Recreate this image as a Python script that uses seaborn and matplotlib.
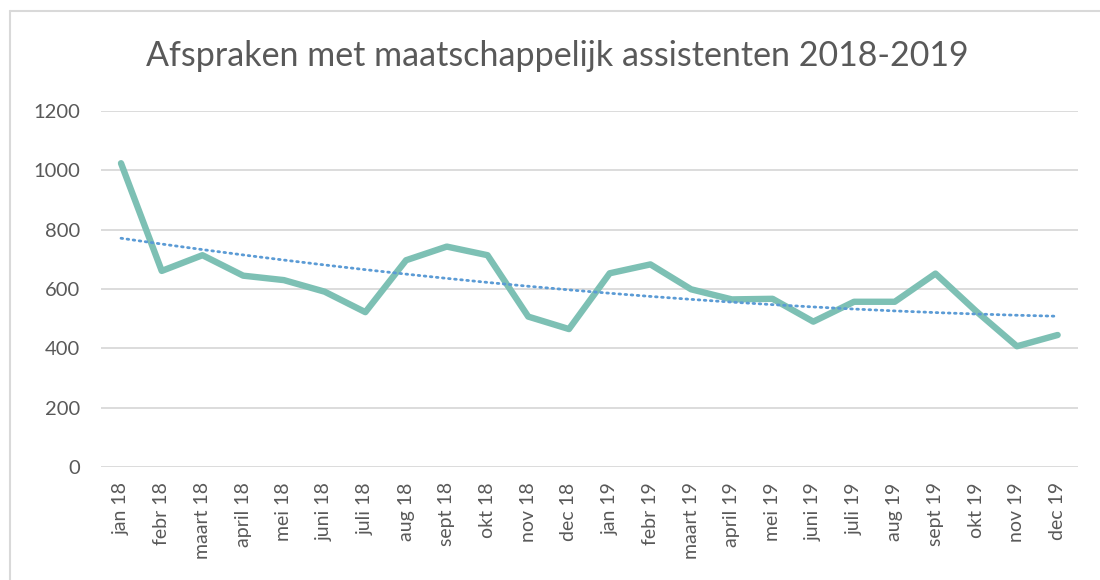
import numpy as np
import pandas as pd
import seaborn as sns
import matplotlib.pyplot as plt
from matplotlib.lines import Line2D

# data
months = ["jan 18", "febr 18", "maart 18", "april 18", "mei 18", "juni 18",
          "juli 18", "aug 18", "sept 18", "okt 18", "nov 18", "dec 18",
          "jan 19", "febr 19", "maart 19", "april 19", "mei 19", "juni 19",
          "juli 19", "aug 19", "sept 19", "okt 19", "nov 19", "dec 19"]
afspraken = [1024, 661, 714, 645, 630, 591, 522, 697, 743, 714, 507, 465,
             653, 683, 599, 565, 567, 490, 557, 557, 652, 525, 407, 445]
yticks = [0, 200, 400, 600, 800, 1000, 1200]

df = pd.DataFrame({"maand": months, "afspraken": afspraken})
df["idx"] = np.arange(len(df))

# trendline (polynomial fit, as Excel does)
coef = np.polyfit(df["idx"], df["afspraken"], 2)
df["trend"] = np.polyval(coef, df["idx"])

sns.set_theme(style="white")
plt.rcParams["font.family"] = ["Lato", "DejaVu Sans"]

fig = plt.figure(figsize=(11, 5.8), dpi=100)
ax = fig.add_axes([0.0915, 0.1948, 0.8885, 0.6138])

for y in yticks:
    ax.axhline(y, color="#d9d9d9", lw=1.3, zorder=0)

sns.lineplot(data=df, x="idx", y="afspraken", ax=ax, color="#7dc0b4",
             lw=4.6, solid_capstyle="round", solid_joinstyle="round", zorder=3)
sns.lineplot(data=df, x="idx", y="trend", ax=ax, color="#5b9bd5",
             lw=2.0, linestyle=(0, (0.6, 1.6)), dash_capstyle="round", zorder=4)

ax.set_xlim(-0.5, len(months) - 0.5)
ax.set_ylim(0, 1200)
ax.set_xticks(df["idx"])
ax.set_xticklabels(months, rotation=90, fontsize=14, color="#595959")
ax.set_yticks(yticks)
ax.set_yticklabels([str(v) for v in yticks], fontsize=14.5, color="#595959")
ax.tick_params(axis="y", length=0, pad=15)
ax.tick_params(axis="x", length=0, pad=11)
ax.set_xlabel("")
ax.set_ylabel("")
for s in ax.spines.values():
    s.set_visible(False)

fig.text(0.507, 0.903, "Afspraken met maatschappelijk assistenten 2018-2019",
         ha="center", va="center", fontsize=24.5, color="#595959")

# chart border
fig.add_artist(Line2D([10 / 1100, 10 / 1100], [0, 1 - 11 / 580],
                      transform=fig.transFigure, color="#d9d9d9", lw=1.5))
fig.add_artist(Line2D([10 / 1100, 1], [1 - 11 / 580, 1 - 11 / 580],
                      transform=fig.transFigure, color="#d9d9d9", lw=1.5))

fig.savefig("out.png", dpi=100)
